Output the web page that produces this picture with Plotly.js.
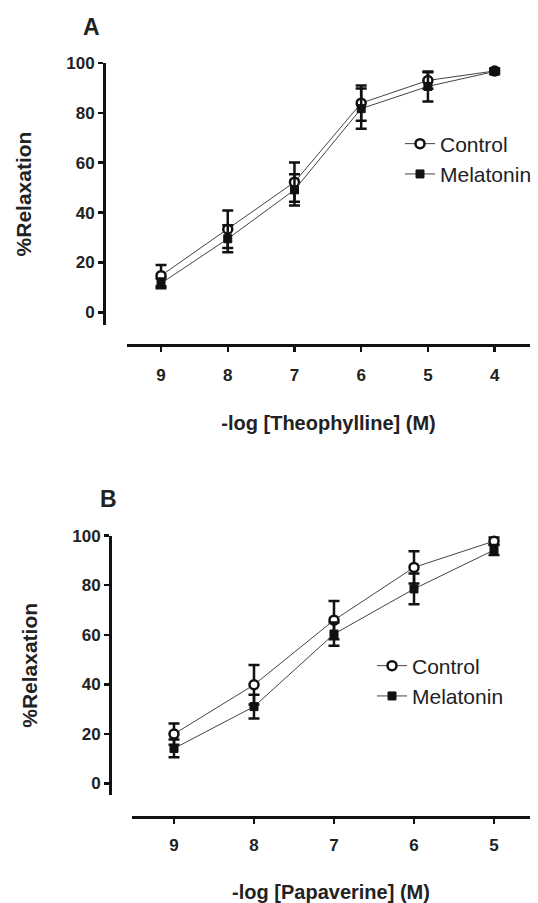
<!DOCTYPE html>
<html>
<head>
<meta charset="utf-8">
<script src="https://cdn.plot.ly/plotly-3.0.1.min.js"></script>
<style>html,body{margin:0;padding:0;background:#fff;}#chart{width:538px;height:903px;}</style>
</head>
<body>
<div id="chart"></div>
<script>
// Panel A: theophylline
const dosesA = [9, 8, 7, 6, 5, 4];
const ctrlA = [14.7, 33.3, 52.2, 83.9, 93.0, 96.8];
const ctrlAerr = [4.3, 7.5, 7.9, 7.1, 3.3, 1.0];
const melA = [11.6, 29.5, 49.1, 81.7, 90.6, 96.6];
const melAerr = [2.0, 5.4, 6.3, 8.1, 6.0, 1.0];
// Panel B: papaverine
const dosesB = [9, 8, 7, 6, 5];
const ctrlB = [19.9, 39.8, 65.9, 87.2, 97.8];
const ctrlBerr = [4.3, 8.0, 7.7, 6.5, 1.5];
const melB = [14.1, 31.0, 60.3, 78.5, 94.2];
const melBerr = [3.6, 4.8, 4.7, 6.2, 2.0];
const yTicks = [0, 20, 40, 60, 80, 100];
const seriesNames = ["Control", "Melatonin"];

const W = 538, H = 903;
const px = v => v / W;
const py = v => 1 - v / H;
const ink = "#111";
const FONT = "Liberation Sans, Arial, sans-serif";

function series(x, y, err, name, isCtrl, xa, ya, leg) {
  return {
    type: "scatter", mode: "lines+markers", x: x, y: y, name: name,
    xaxis: xa, yaxis: ya, legend: leg, legendgroup: name + leg, legendrank: isCtrl ? 1 : 2,
    cliponaxis: false,
    line: {color: "#444", width: 1},
    marker: isCtrl
      ? {symbol: "circle", size: 9, color: "#fff", line: {color: ink, width: 2.5}}
      : {symbol: "square", size: 8, color: ink, line: {color: ink, width: 1}},
    error_y: {type: "data", array: err, visible: true, thickness: 2.5, width: 5.5, color: ink}
  };
}

const data = [
  series(dosesA, ctrlA, ctrlAerr, seriesNames[0], true, "x", "y", "legend"),
  series(dosesA, melA, melAerr, seriesNames[1], false, "x", "y", "legend"),
  series(dosesB, ctrlB, ctrlBerr, seriesNames[0], true, "x2", "y2", "legend2"),
  series(dosesB, melB, melBerr, seriesNames[1], false, "x2", "y2", "legend2")
];

const tickFont = {family: FONT, size: 17, color: "#222", weight: 700};
const titleFont = {family: FONT, size: 20, color: "#222", weight: 700};

function xAxis(domain, range, pos, vals, title, lblOff, titleOff) {
  return {
    domain: domain, range: range, anchor: "free", position: pos,
    tickvals: vals, ticktext: vals.map(String), ticks: "outside", ticklen: 5, tickwidth: 2.5, tickcolor: ink,
    ticklabelstandoff: lblOff,
    showline: true, linewidth: 2.5, linecolor: ink, showgrid: false, zeroline: false,
    tickfont: tickFont, title: {text: title, font: titleFont, standoff: titleOff}
  };
}
function yAxis(domain, range, pos) {
  return {
    domain: domain, range: range, anchor: "free", position: pos,
    tickvals: yTicks, ticks: "outside", ticklen: 5, tickwidth: 2.5, tickcolor: ink,
    showline: true, linewidth: 2.5, linecolor: ink, showgrid: false, zeroline: false,
    tickfont: tickFont, title: {text: "%Relaxation", font: {family: FONT, size: 21, color: "#222", weight: 700}, standoff: 28}
  };
}

const legendBase = {
  xanchor: "left", yanchor: "middle", bgcolor: "rgba(0,0,0,0)",
  font: {family: FONT, size: 21, color: "#222"}, traceorder: "grouped", tracegroupgap: 0
};

const panelFont = {family: FONT, size: 23, color: "#222", weight: 700};

const layout = {
  width: W, height: H, margin: {l: 0, r: 0, t: 0, b: 0},
  paper_bgcolor: "#fff", plot_bgcolor: "#fff", showlegend: true,
  xaxis: xAxis([px(127), px(530)], [9.51, 3.47], py(345), dosesA, "-log [Theophylline] (M)", 9, 31),
  yaxis: yAxis([py(325), py(63)], [-5.1, 100], px(104)),
  xaxis2: xAxis([px(132), px(530)], [9.525, 4.55], py(817), dosesB, "-log [Papaverine] (M)", 7, 39),
  yaxis2: yAxis([py(795), py(535.7)], [-4.7, 100], px(110)),
  legend: Object.assign({x: px(400), y: py(159)}, legendBase),
  legend2: Object.assign({x: px(372), y: py(681)}, legendBase),
  annotations: [
    {text: "A", x: px(91), y: py(27), xref: "paper", yref: "paper", xanchor: "center", yanchor: "middle", showarrow: false, font: panelFont},
    {text: "B", x: px(108), y: py(499), xref: "paper", yref: "paper", xanchor: "center", yanchor: "middle", showarrow: false, font: panelFont}
  ]
};

Plotly.newPlot("chart", data, layout, {staticPlot: true, displayModeBar: false});
</script>
</body>
</html>
